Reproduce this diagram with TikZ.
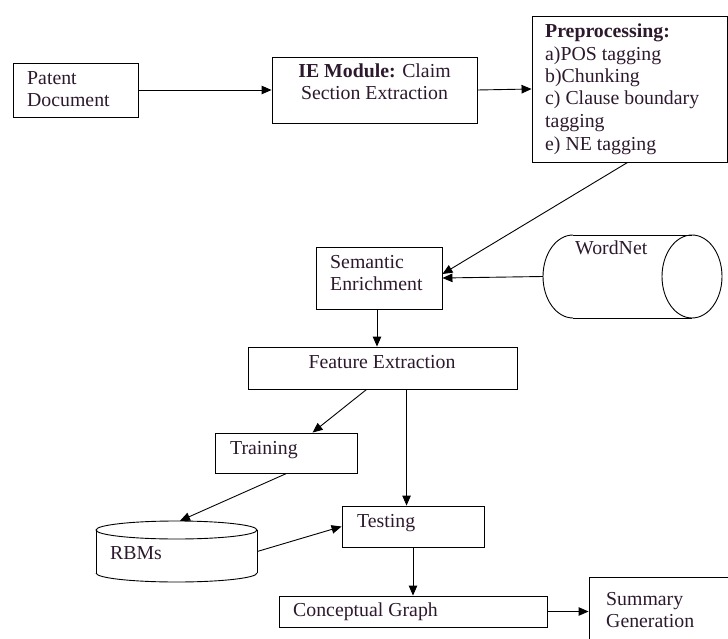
\documentclass[tikz,border=0pt]{standalone}
\usepackage{fontspec}
\setmainfont{Liberation Serif}
\usetikzlibrary{arrows.meta,calc}
\definecolor{txt}{RGB}{45,25,45}
\begin{document}
\begin{tikzpicture}[x=1pt,y=-1pt,
  box/.style={draw, line width=0.9pt, rectangle, inner sep=0pt},
  hidden/.style={rectangle, inner sep=0pt},
  lbl/.style={anchor=base west, inner sep=0pt, font=\fontsize{19.8}{22}\selectfont, text=txt},
  clbl/.style={anchor=base, inner sep=0pt, font=\fontsize{19.8}{22}\selectfont, text=txt},
  conn/.style={line width=0.9pt, -{Triangle[length=10pt,width=8.5pt]}},
  edge/.style={line width=0.9pt}]
\useasboundingbox (0,0) rectangle (728,639);
\clip (0,0) rectangle (728,639);

% boxes
\node[box, minimum width=125, minimum height=54] (patent) at (75.5,90) {};
\node[box, minimum width=205, minimum height=66] (ie) at (374.5,90) {};
\node[box, minimum width=195, minimum height=146] (prep) at (629.5,89) {};
\node[box, minimum width=126, minimum height=62] (sem) at (379,278) {};
\node[box, minimum width=269, minimum height=42] (feat) at (382.5,368) {};
\node[box, minimum width=142, minimum height=40] (train) at (286,453) {};
\node[box, minimum width=142, minimum height=41] (test) at (413,526.5) {};
\node[box, minimum width=268, minimum height=31] (concept) at (413,611.5) {};
\node[box, minimum width=151, minimum height=73] (summ) at (664.5,613.5) {};

% cylinders
\node[hidden, minimum width=179, minimum height=83] (wn) at (632.5,276.5) {};
\draw[edge] (573,235) -- (692,235);
\draw[edge] (573,318) -- (692,318);
\draw[edge] (573,235) arc[start angle=90, end angle=270, x radius=30pt, y radius=41.5pt];
\draw[edge] (692,276.5) ellipse[x radius=30pt, y radius=41.5pt];

\node[hidden, minimum width=161, minimum height=61] (rbms) at (176.5,551.5) {};
\draw[edge] (176.5,530) ellipse[x radius=80.5pt, y radius=9pt];
\draw[edge] (96,530) -- (96,573);
\draw[edge] (257,530) -- (257,573);
\draw[edge] (96,573) arc[start angle=180, end angle=360, x radius=80.5pt, y radius=9pt];

% texts
\node[lbl] (tpatent1) at (27,85) {Patent};
\node[lbl] (tpatent2) at (27,107) {Document};
\node[clbl] (tie1) at (374.5,78) {{\bfseries IE Module:} Claim};
\node[clbl] (tie2) at (374.5,100) {Section Extraction};
\node[lbl] (tp1) at (545,38) {\bfseries Preprocessing:};
\node[lbl] (tp2) at (545,61) {a)POS tagging};
\node[lbl] (tp3) at (545,83) {b)Chunking};
\node[lbl] (tp4) at (545,105) {c) Clause boundary};
\node[lbl] (tp5) at (545,128) {tagging};
\node[lbl] (tp6) at (545,151) {e) NE tagging};
\node[lbl] (tsem1) at (330,268) {Semantic};
\node[lbl] (tsem2) at (330,290) {Enrichment};
\node[lbl] (twn) at (575,254) {WordNet};
\node[clbl] (tfeat) at (382,368) {Feature Extraction};
\node[lbl] (ttrain) at (230,454) {Training};
\node[lbl] (ttest) at (357,527) {Testing};
\node[lbl] (trbms) at (110,559) {RBMs};
\node[lbl] (tconcept) at (293,616) {Conceptual Graph};
\node[lbl] (tsumm1) at (606,605) {Summary};
\node[lbl] (tsumm2) at (606,627) {Generation};

% helper points
\coordinate (semout) at ($(sem.south)+(-2,0)$);
\coordinate (featA) at ($(feat.south west)+(119,0)$);
\coordinate (featB) at ($(feat.south west)+(159,0)$);
\coordinate (trainin) at ($(train.north west)+(98,0)$);
\coordinate (trainout) at ($(train.south west)+(72,0)$);
\coordinate (rbmsin) at ($(rbms.north)+(3.5,0)$);
\coordinate (prepout) at ($(prep.south west)!0.49!(prep.south east)$);

% connectors
\draw[conn] (patent.east) -- (ie.west);
\draw[conn] (ie.east) -- (prep.west);
\draw[conn] (prepout) -- ([yshift=4pt]sem.east);
\draw[conn] (wn.west) -- (sem.east);
\draw[conn] (semout) -- (semout |- feat.north);
\draw[conn] (featA) -- (trainin);
\draw[conn] (featB) -- (featB |- test.north);
\draw[conn] (trainout) -- (rbmsin);
\draw[conn] (rbms.east) -- (test.west);
\draw[conn] (test.south) -- (test.south |- concept.north);
\draw[conn] (concept.east) -- (concept.east -| summ.west);
\end{tikzpicture}
\end{document}
